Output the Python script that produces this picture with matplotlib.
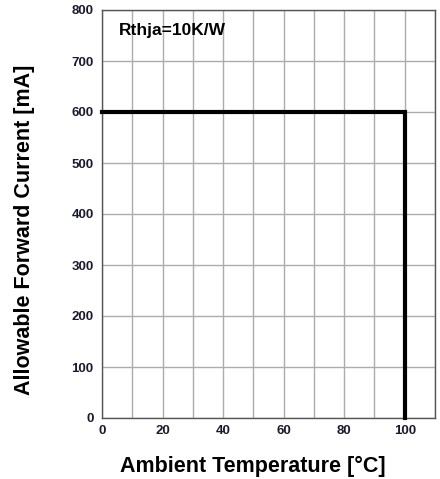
import matplotlib
matplotlib.use("Agg")
import matplotlib.pyplot as plt
import numpy as np

plt.rcParams['font.family'] = ['Liberation Sans', 'DejaVu Sans']

temp = [0, 100, 100]
current = [600, 600, 0]
xticks = [0, 20, 40, 60, 80, 100]
yticks = [0, 100, 200, 300, 400, 500, 600, 700, 800]

fig = plt.figure(figsize=(4.4, 4.79), dpi=100)
ax = fig.add_axes([102/440, 61/479, 333/440, 408/479])
ax.set_xlim(0, 110)
ax.set_ylim(0, 800)
ax.set_xticks(np.arange(0, 111, 10), minor=True)
ax.set_xticks(xticks)
ax.set_yticks(yticks)
ax.set_xticklabels([str(v) for v in xticks], fontweight='bold', fontsize=9.5, color='#1a1a2e')
ax.set_yticklabels([str(v) for v in yticks], fontweight='bold', fontsize=9.5, color='#1a1a2e')
ax.tick_params(which='both', length=0)
ax.tick_params(axis='y', pad=6)
ax.tick_params(axis='x', pad=5)
ax.grid(True, which='both', axis='x', color='#acacac', linewidth=1.0)
ax.grid(True, which='major', axis='y', color='#acacac', linewidth=1.0)
ax.set_axisbelow(True)
for s in ax.spines.values():
    s.set_color('#555555')
    s.set_linewidth(1.0)

ax.plot(temp, current, color='black', linewidth=3.0, solid_joinstyle='miter', clip_on=False, zorder=3)

ax.text(17/333, 1 - 20/408, 'Rthja=10K/W', transform=ax.transAxes, fontsize=12.5, fontweight='bold',
        va='center', ha='left')

ax.set_xlabel('Ambient Temperature [°C]', fontsize=15.5, fontweight='bold', va='center', ha='center')
ax.xaxis.set_label_coords((253 - 102) / 333, (418 - 466) / 408)
ax.set_ylabel('Allowable Forward Current [mA]', fontsize=15.5, fontweight='bold', va='center', ha='center')
ax.yaxis.set_label_coords((25 - 102) / 333, (418 - 230) / 408)

fig.savefig('out.png', dpi=100)
